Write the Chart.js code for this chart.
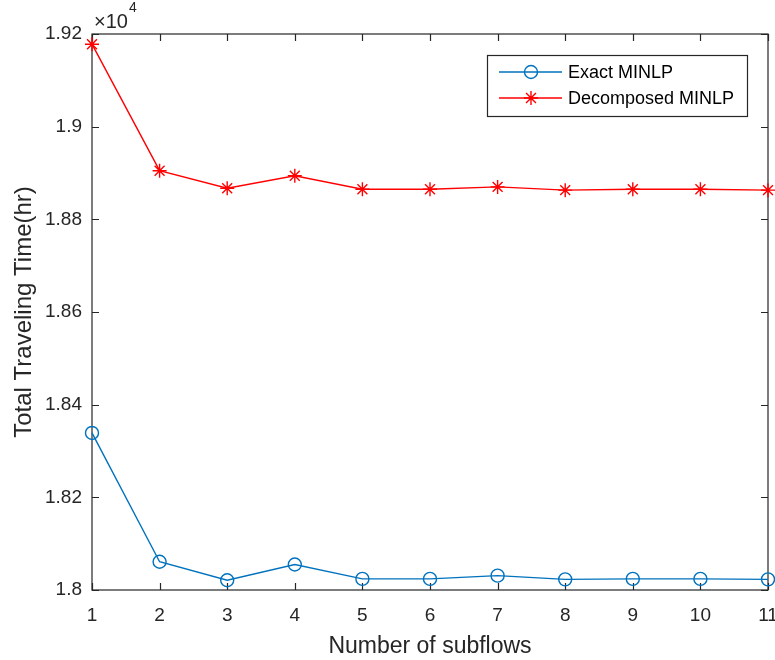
<!DOCTYPE html>
<html>
<head>
<meta charset="utf-8">
<script src="https://cdn.jsdelivr.net/npm/chart.js@4"></script>
<style>
  html, body { margin: 0; padding: 0; background: #fff; }
  #wrap { width: 775px; height: 660px; }
</style>
</head>
<body>
<div id="wrap"><canvas id="chart" width="775" height="660"></canvas></div>
<script>
// data (values in hr, axis shows x10^4)
const subflows = ["1", "2", "3", "4", "5", "6", "7", "8", "9", "10", "11"];
const exactMinlp = [18339, 18061, 18021, 18055, 18024, 18024, 18031, 18023, 18024, 18024, 18023];
const decomposedMinlp = [19178, 18905, 18867, 18894, 18865, 18865, 18870, 18863, 18865, 18865, 18863];
const yTicks = [18000, 18200, 18400, 18600, 18800, 19000, 19200];

const FONT = '"Liberation Sans", Arial, Helvetica, sans-serif';
const AXIS_COLOR = "#262626";

// MATLAB style box with inward ticks
const boxPlugin = {
    id: "box",
    beforeDatasetsDraw(chart) {
        const { ctx, chartArea: a, scales } = chart;
        const len = 7;
        ctx.save();
        ctx.strokeStyle = AXIS_COLOR;
        ctx.lineWidth = 1.2;
        ctx.strokeRect(a.left, a.top, a.right - a.left, a.bottom - a.top);
        ctx.beginPath();
        scales.x.ticks.forEach((t, i) => {
            const px = Math.round(scales.x.getPixelForTick(i)) + 0.5;
            ctx.moveTo(px, a.bottom); ctx.lineTo(px, a.bottom - len);
            ctx.moveTo(px, a.top); ctx.lineTo(px, a.top + len);
        });
        scales.y.ticks.forEach(t => {
            const py = Math.round(scales.y.getPixelForValue(t.value)) + 0.5;
            ctx.moveTo(a.left, py); ctx.lineTo(a.left + len, py);
            ctx.moveTo(a.right, py); ctx.lineTo(a.right - len, py);
        });
        ctx.stroke();

        // exponent label
        ctx.fillStyle = AXIS_COLOR;
        ctx.textBaseline = "alphabetic";
        ctx.textAlign = "left";
        ctx.font = "20px " + FONT;
        ctx.fillText("\u00d710", a.left + 2, a.top - 6);
        const w = ctx.measureText("\u00d710").width;
        ctx.font = "14px " + FONT;
        ctx.fillText("4", a.left + 2 + w + 1, a.top - 22);
        ctx.restore();
    }
};

// legend drawn like the original (line + marker)
const legendPlugin = {
    id: "matLegend",
    afterDraw(chart) {
        const { ctx } = chart;
        const x0 = 487, y0 = 55, x1 = 747, y1 = 116;
        ctx.save();
        ctx.fillStyle = "#fff";
        ctx.fillRect(x0, y0, x1 - x0, y1 - y0);
        ctx.strokeStyle = AXIS_COLOR;
        ctx.lineWidth = 1.2;
        ctx.strokeRect(x0 + 0.5, y0 + 0.5, x1 - x0, y1 - y0);
        const rows = [72, 98];
        chart.data.datasets.forEach((ds, i) => {
            const y = rows[i];
            ctx.strokeStyle = ds.borderColor;
            ctx.lineWidth = ds.borderWidth;
            ctx.beginPath();
            ctx.moveTo(499, y); ctx.lineTo(562, y);
            ctx.stroke();
            ctx.fillStyle = "rgba(0,0,0,0)";
            ctx.strokeStyle = ds.pointBorderColor;
            ctx.lineWidth = ds.pointBorderWidth;
            Chart.helpers.drawPoint(ctx, { pointStyle: ds.pointStyle, radius: ds.pointRadius, borderWidth: ds.pointBorderWidth }, 531, y);
            ctx.fillStyle = "#000";
            ctx.font = "18px " + FONT;
            ctx.textBaseline = "middle";
            ctx.textAlign = "left";
            ctx.fillText(ds.label, 568, y + 1);
        });
        ctx.restore();
    }
};

new Chart(document.getElementById("chart"), {
    type: "line",
    data: {
        labels: subflows,
        datasets: [
            {
                label: "Exact MINLP",
                data: exactMinlp,
                borderColor: "#0072BD",
                borderWidth: 1.4,
                pointStyle: "circle",
                pointRadius: 6.5,
                pointBorderColor: "#0072BD",
                pointBorderWidth: 1.4,
                pointBackgroundColor: "rgba(0,0,0,0)",
                tension: 0,
                clip: false
            },
            {
                label: "Decomposed MINLP",
                data: decomposedMinlp,
                borderColor: "#FF0000",
                borderWidth: 1.4,
                pointStyle: "star",
                pointRadius: 7,
                pointBorderColor: "#FF0000",
                pointBorderWidth: 1.4,
                pointBackgroundColor: "#FF0000",
                tension: 0,
                clip: false
            }
        ]
    },
    options: {
        responsive: false,
        animation: false,
        layout: {
            autoPadding: false,
            padding: { top: 34, right: 7, left: 0, bottom: 0 }
        },
        plugins: {
            legend: { display: false },
            tooltip: { enabled: false }
        },
        scales: {
            x: {
                type: "category",
                offset: false,
                grid: { display: false, drawTicks: false },
                border: { display: false },
                ticks: {
                    color: AXIS_COLOR,
                    font: { family: FONT, size: 19 },
                    padding: 14,
                    maxRotation: 0,
                    autoSkip: false
                },
                title: {
                    display: true,
                    text: "Number of subflows",
                    color: AXIS_COLOR,
                    font: { family: FONT, size: 23 },
                    padding: { top: 0, bottom: 0 }
                },
                afterFit(scale) {
                    scale.height = 70;
                    scale.paddingLeft = 0;
                    scale.paddingRight = 0;
                }
            },
            y: {
                min: 18000,
                max: 19200,
                grid: { display: false, drawTicks: false },
                border: { display: false },
                afterBuildTicks(scale) {
                    scale.ticks = yTicks.map(v => ({ value: v }));
                },
                ticks: {
                    color: AXIS_COLOR,
                    font: { family: FONT, size: 19 },
                    padding: 10,
                    callback: v => String(Number((v / 1e4).toFixed(2)))
                },
                title: {
                    display: true,
                    text: "Total Traveling Time(hr)",
                    color: AXIS_COLOR,
                    font: { family: FONT, size: 24 },
                    padding: { top: 10, bottom: 0 }
                },
                afterFit(scale) {
                    scale.width = 92;
                    scale.paddingTop = 0;
                    scale.paddingBottom = 0;
                }
            }
        }
    },
    plugins: [boxPlugin, legendPlugin]
});
</script>
</body>
</html>
